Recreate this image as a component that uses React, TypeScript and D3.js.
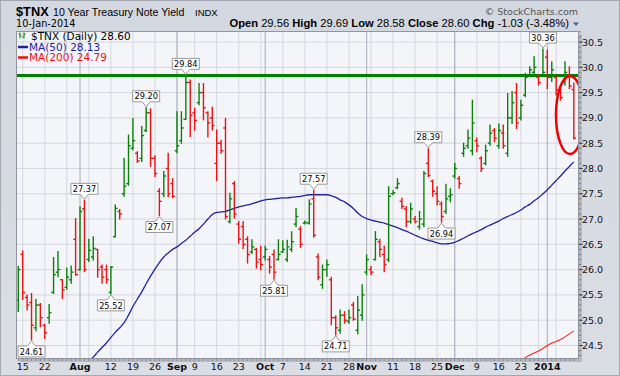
import React from 'react';
import * as d3 from 'd3';

const START = '2013-07-12';
const END = '2014-01-10';
const HOLIDAYS = ['2013-09-02', '2013-11-28', '2013-12-25', '2014-01-01'];
const PRIOR_CLOSE = 25.3;

const opens = [25.40,26.30,25.45,25.35,24.85,25.30,24.90,25.05,25.55,25.95,
25.80,25.65,25.80,26.60,26.00,27.20,26.20,26.25,26.40,26.05,
26.00,25.55,26.65,27.15,27.50,27.70,28.40,28.30,28.20,28.75,
29.10,28.20,27.55,27.50,28.00,27.70,28.35,28.55,28.97,29.70,
29.10,29.30,29.50,29.10,29.00,28.10,28.50,28.80,26.95,27.70,
26.90,26.85,26.60,26.35,26.40,26.20,26.25,26.20,26.30,26.20,
26.35,26.20,26.40,26.90,26.80,26.92,26.92,27.40,26.25,25.70,
26.00,25.80,25.05,24.80,25.10,24.98,25.30,24.80,25.10,25.95,
26.00,26.20,26.55,26.30,26.20,27.50,27.62,27.35,27.20,26.95,
27.00,26.85,26.90,28.10,27.75,27.50,27.30,27.15,27.45,27.85,
27.80,28.30,28.45,28.35,28.55,28.20,28.10,28.50,28.75,28.45,
28.70,28.30,29.00,29.50,29.00,29.45,29.85,29.90,29.80,29.85,
30.20,29.80,29.80,29.55,29.70,29.85,29.56];

const highs = [26.06,26.37,25.50,25.53,25.41,25.33,24.92,25.31,26.24,26.36,
25.80,26.03,26.07,27.01,27.24,27.37,26.60,26.65,26.40,26.09,
26.09,26.06,27.28,27.19,28.20,28.66,28.99,28.33,28.83,29.20,
29.18,28.25,27.60,27.94,28.30,27.80,29.12,29.12,29.84,29.75,
29.19,29.68,29.68,29.12,29.21,28.76,28.56,28.99,27.51,27.74,
26.95,26.95,26.65,26.59,26.42,26.46,26.46,26.26,26.39,26.59,
26.57,26.58,26.75,27.21,26.85,26.96,27.38,27.57,26.31,26.09,
26.19,25.85,25.09,25.20,25.17,25.20,25.35,25.47,25.70,26.29,
26.06,26.75,26.60,26.46,27.64,27.56,27.80,27.41,27.25,27.31,
27.05,27.15,27.94,28.39,27.77,27.64,27.34,27.69,27.60,28.10,
27.84,28.50,28.76,29.35,28.60,28.23,28.46,28.86,28.79,28.88,
28.86,29.48,29.52,29.68,29.35,29.88,30.01,30.21,29.85,30.36,
30.34,30.11,29.82,29.65,30.11,30.01,29.69];

const lows = [25.17,25.41,25.20,24.61,24.79,24.87,24.64,24.94,25.53,25.86,
25.43,25.61,25.73,25.89,25.99,25.96,26.16,26.19,25.85,25.73,
25.73,25.52,26.65,27.00,27.45,27.67,28.37,28.12,28.14,28.73,
28.04,27.84,27.07,27.44,27.44,27.42,28.31,28.50,28.97,28.63,
28.76,29.26,28.96,28.62,28.76,27.76,28.30,27.00,26.92,27.02,
26.52,26.42,26.13,26.32,26.03,26.00,26.19,25.93,25.81,26.19,
26.34,26.16,26.36,26.85,26.44,26.90,26.90,26.64,25.80,25.63,
25.87,24.91,24.71,24.74,24.94,24.94,25.00,24.73,25.00,25.90,
25.90,26.19,26.26,25.96,26.16,27.48,27.60,27.21,26.85,26.92,
26.92,26.80,26.85,27.84,27.45,27.28,26.94,27.11,27.34,27.81,
27.61,28.24,28.40,28.27,28.33,27.94,28.07,28.46,28.53,28.40,
28.40,28.24,28.89,28.79,28.96,29.42,29.82,29.85,29.65,29.85,
29.58,29.72,29.45,29.35,29.65,29.58,28.58];

const closes = [26.00,25.55,25.30,24.90,25.30,25.05,24.75,25.15,25.90,26.00,
25.60,25.85,25.95,25.90,27.15,26.00,26.38,26.42,26.00,25.85,
25.80,26.05,27.21,27.10,27.65,28.45,28.55,28.15,28.65,29.10,
28.20,27.90,27.35,27.85,27.50,27.45,28.45,28.80,29.70,29.05,
28.95,29.50,29.20,28.90,28.85,28.50,28.35,27.05,27.40,27.10,
26.60,26.50,26.30,26.45,26.15,26.10,26.40,26.05,25.95,26.30,
26.40,26.45,26.55,27.05,26.50,26.93,27.30,26.68,25.85,26.00,
26.10,25.05,24.85,25.10,25.00,25.05,25.02,25.20,25.50,26.20,
25.95,26.60,26.40,26.10,27.45,27.52,27.70,27.25,26.95,27.20,
26.95,27.00,27.90,27.86,27.55,27.35,27.05,27.40,27.48,28.00,
27.70,28.40,28.60,28.90,28.45,28.00,28.35,28.70,28.60,28.75,
28.45,29.00,29.30,28.90,29.25,29.80,29.95,30.00,29.70,29.90,
29.80,29.95,29.55,29.40,29.90,29.63,28.60];

const MA50_START = 16;
const ma50 = [24.20,24.27,24.37,24.46,24.55,24.66,24.76,24.85,24.95,25.10,
25.27,25.42,25.56,25.72,25.87,26.01,26.14,26.25,26.33,26.40,
26.45,26.52,26.58,26.66,26.74,26.81,26.90,27.00,27.09,27.13,
27.14,27.15,27.18,27.21,27.24,27.26,27.28,27.30,27.33,27.36,
27.38,27.39,27.40,27.41,27.42,27.42,27.43,27.44,27.45,27.47,
27.48,27.48,27.48,27.48,27.48,27.46,27.43,27.38,27.34,27.28,
27.21,27.12,27.05,27.01,26.98,26.96,26.94,26.92,26.89,26.86,
26.83,26.79,26.76,26.72,26.68,26.64,26.61,26.58,26.56,26.53,
26.51,26.51,26.52,26.54,26.58,26.62,26.67,26.71,26.75,26.79,
26.84,26.88,26.92,26.96,27.01,27.05,27.09,27.13,27.18,27.24,
27.29,27.36,27.42,27.50,27.58,27.67,27.76,27.85,27.95,28.04,
28.13];

const MA200_START = 113;
const ma200 = [24.16,24.21,24.26,24.31,24.35,24.39,24.44,24.50,24.55,24.58,24.62,24.67,24.73,24.79];

const RESISTANCE = 29.84;
const yTicks = [24.5, 25.0, 25.5, 26.0, 26.5, 27.0, 27.5, 28.0, 28.5, 29.0, 29.5, 30.0, 30.5];

const xTickLabels = [
  { date: '2013-07-15', label: '15', bold: false },
  { date: '2013-07-22', label: '22', bold: false },
  { date: '2013-08-01', label: 'Aug', bold: true },
  { date: '2013-08-12', label: '12', bold: false },
  { date: '2013-08-19', label: '19', bold: false },
  { date: '2013-08-26', label: '26', bold: false },
  { date: '2013-09-03', label: 'Sep', bold: true },
  { date: '2013-09-09', label: '9', bold: false },
  { date: '2013-09-16', label: '16', bold: false },
  { date: '2013-09-23', label: '23', bold: false },
  { date: '2013-10-01', label: 'Oct', bold: true },
  { date: '2013-10-07', label: '7', bold: false },
  { date: '2013-10-14', label: '14', bold: false },
  { date: '2013-10-21', label: '21', bold: false },
  { date: '2013-10-28', label: '28', bold: false },
  { date: '2013-11-01', label: 'Nov', bold: true },
  { date: '2013-11-11', label: '11', bold: false },
  { date: '2013-11-18', label: '18', bold: false },
  { date: '2013-11-25', label: '25', bold: false },
  { date: '2013-12-02', label: 'Dec', bold: true },
  { date: '2013-12-09', label: '9', bold: false },
  { date: '2013-12-16', label: '16', bold: false },
  { date: '2013-12-23', label: '23', bold: false },
  { date: '2014-01-02', label: '2014', bold: true },
];

const callouts = [
  { i: 3, side: 'low' }, { i: 15, side: 'high' }, { i: 21, side: 'low' },
  { i: 29, side: 'high' }, { i: 32, side: 'low' }, { i: 38, side: 'high' },
  { i: 58, side: 'low' }, { i: 67, side: 'high' }, { i: 72, side: 'low' },
  { i: 93, side: 'high' }, { i: 96, side: 'low' }, { i: 119, side: 'high' },
];

const W = 620, H = 376;
const P = { left: 16, right: 579, top: 31, bottom: 359 };
const GREEN = '#0a800a';
const RED = '#ee1111';
const FONT = '"DejaVu Sans", Verdana, sans-serif';
const AFONT = '"Liberation Sans", Arial, sans-serif';

const fmtDate = d3.utcFormat('%Y-%m-%d');
const parse = d3.utcParse('%Y-%m-%d');
const dates = d3.utcDay
  .range(parse(START) as Date, d3.utcDay.offset(parse(END) as Date, 1))
  .filter((d) => d.getUTCDay() !== 0 && d.getUTCDay() !== 6 && !HOLIDAYS.includes(fmtDate(d)));

export default function App() {
  const n = closes.length;
  const x = d3.scaleLinear().domain([0, n - 1]).range([18.3, 573.8]);
  const y = d3.scaleLinear().domain([24.5, 30.5]).range([345.5, 42]);
  const idxOf = (s: string) => dates.findIndex((d) => fmtDate(d) === s);

  const weekLines: number[] = [];
  const monthLines: number[] = [];
  dates.forEach((d, i) => {
    if (i === 0) return;
    const p = dates[i - 1];
    if (d.getUTCMonth() !== p.getUTCMonth()) monthLines.push(i);
    if (d.getUTCDay() < p.getUTCDay()) weekLines.push(i);
  });

  const ma50Path = d3.line<[number, number]>().x((p) => x(p[0])).y((p) => y(p[1])).curve(d3.curveMonotoneX)(
    ma50.map((v, k) => [k + MA50_START, v] as [number, number])
  );
  const ma200Path = d3.line<[number, number]>().x((p) => x(p[0])).y((p) => y(p[1]))(
    ma200.map((v, k) => [k + MA200_START, v] as [number, number])
  );

  const minorTicks = d3.range(24.3, 30.75, 0.1);
  const last = n - 1;
  const chg = closes[last] - closes[last - 1];
  const pct = (chg / closes[last - 1]) * 100;

  return (
    <svg width={W} height={H} style={{ position: 'absolute', left: 0, top: 0 }} xmlns="http://www.w3.org/2000/svg">
      <defs>
        <clipPath id="plotClip">
          <rect x={P.left} y={P.top} width={P.right - P.left} height={P.bottom - P.top} />
        </clipPath>
        <linearGradient id="bg" x1="0" y1="0" x2="0" y2="1">
          <stop offset="0" stopColor="#d3d7df" />
          <stop offset="1" stopColor="#dadde4" />
        </linearGradient>
      </defs>
      <rect x={0} y={0} width={W} height={H} fill="url(#bg)" />
      <rect x={0.5} y={0.5} width={W - 1} height={H - 1} fill="none" stroke="#a3a8b2" />
      <rect x={P.left + 3} y={P.top + 3} width={P.right - P.left} height={P.bottom - P.top} fill="#b5b9c2" />
      <rect x={P.left} y={P.top} width={P.right - P.left} height={P.bottom - P.top} fill="#f4f5f9" />

      <g clipPath="url(#plotClip)">
        {yTicks.map((t) => (
          <line key={'hy' + t} x1={P.left} x2={P.right} y1={y(t)} y2={y(t)} stroke="#d4d7df" strokeWidth={1} />
        ))}
        {weekLines.map((i) => (
          <line key={'w' + i} x1={x(i)} x2={x(i)} y1={P.top} y2={P.bottom} stroke="#d4d7df" strokeWidth={1} />
        ))}
        {monthLines.map((i) => (
          <line key={'m' + i} x1={x(i)} x2={x(i)} y1={P.top} y2={P.bottom} stroke="#b4b8c2" strokeWidth={1.2} />
        ))}

        <line x1={P.left} x2={P.right} y1={y(RESISTANCE)} y2={y(RESISTANCE)} stroke="#008000" strokeWidth={3} />

        {ma200Path && <path d={ma200Path} fill="none" stroke="#ff2222" strokeWidth={1.1} />}
        {ma50Path && <path d={ma50Path} fill="none" stroke="#22229a" strokeWidth={1.3} />}

        {closes.map((c, i) => {
          const prev = i === 0 ? PRIOR_CLOSE : closes[i - 1];
          const col = c > prev ? GREEN : RED;
          const cx = x(i);
          return (
            <g key={'b' + i} stroke={col} strokeWidth={1.4}>
              <line x1={cx} x2={cx} y1={y(highs[i]) - 0.5} y2={y(lows[i]) + 0.5} />
              <line x1={cx - 2.3} x2={cx} y1={y(opens[i])} y2={y(opens[i])} />
              <line x1={cx} x2={cx + 2.3} y1={y(c)} y2={y(c)} />
            </g>
          );
        })}

        {callouts.map(({ i, side }) => {
          const cx = x(i);
          const val = side === 'high' ? highs[i] : lows[i];
          const w = 27, h = 11;
          let d: string, ty: number;
          if (side === 'high') {
            const apex = y(val) - 1;
            const bot = apex - 5;
            const top = bot - h;
            d = `M${cx - w / 2},${top}H${cx + w / 2}V${bot}H${cx + 4}L${cx},${apex}L${cx - 4},${bot}H${cx - w / 2}Z`;
            ty = top + 8.6;
          } else {
            const apex = y(val) + 1;
            const top = apex + 5;
            const bot = top + h;
            d = `M${cx - w / 2},${top}H${cx - 4}L${cx},${apex}L${cx + 4},${top}H${cx + w / 2}V${bot}H${cx - w / 2}Z`;
            ty = top + 8.6;
          }
          return (
            <g key={'c' + i}>
              <path d={d} fill="#ffffff" stroke="#9a9a9a" strokeWidth={1} />
              <text x={cx} y={ty} textAnchor="middle" fontFamily={FONT} fontSize={8.2} fill="#000">
                {val.toFixed(2)}
              </text>
            </g>
          );
        })}

        <ellipse cx={570} cy={115} rx={14} ry={39} fill="none" stroke="#ee0000" strokeWidth={2.5} />
      </g>

      <rect x={P.left + 0.5} y={P.top + 0.5} width={P.right - P.left - 1} height={P.bottom - P.top - 1} fill="none" stroke="#9095a0" strokeWidth={1} />

      {minorTicks.map((t, k) => (
        <line key={'mt' + k} x1={P.right} x2={P.right + 2} y1={y(t)} y2={y(t)} stroke="#666" strokeWidth={0.8} />
      ))}
      {yTicks.map((t) => (
        <g key={'yt' + t}>
          <line x1={P.right} x2={P.right + 4} y1={y(t)} y2={y(t)} stroke="#444" strokeWidth={1} />
          <text x={P.right + 3} y={y(t) + 3.5} fontFamily={FONT} fontSize={9.5} fill="#111">
            {t.toFixed(1)}
          </text>
        </g>
      ))}

      {closes.map((_, i) => (
        <line key={'bt' + i} x1={x(i)} x2={x(i)} y1={P.bottom} y2={P.bottom + 2} stroke="#777" strokeWidth={0.8} />
      ))}
      {xTickLabels.map((t) => {
        const i = idxOf(t.date);
        return (
          <text key={'xl' + t.date} x={x(i)} y={370} textAnchor="middle" fontFamily={FONT}
            fontSize={9.5} fontWeight={t.bold ? 'bold' : 'normal'} fill="#111">
            {t.label}
          </text>
        );
      })}

      <text x={16} y={16} fontFamily={AFONT} fontSize={12.8} fontWeight="bold" fill="#000">$TNX</text>
      <text x={53} y={16} fontFamily={AFONT} fontSize={10.6} fill="#000">10 Year Treasury Note Yield</text>
      <text x={195} y={16} fontFamily={AFONT} fontSize={9.5} fill="#000">INDX</text>
      <text x={16} y={26.5} fontFamily={FONT} fontSize={9.7} fill="#000">10-Jan-2014</text>
      <text x={578} y={15} textAnchor="end" fontFamily={FONT} fontSize={9.5} fill="#555">© StockCharts.com</text>
      <text x={569} y={26.5} textAnchor="end" fontFamily={AFONT} fontSize={11.2} fill="#000">
        <tspan fontWeight="bold">Open</tspan> {opens[last].toFixed(2)}{'  '}
        <tspan fontWeight="bold">High</tspan> {highs[last].toFixed(2)}{'  '}
        <tspan fontWeight="bold">Low</tspan> {lows[last].toFixed(2)}{'  '}
        <tspan fontWeight="bold">Close</tspan> {closes[last].toFixed(2)}{'  '}
        <tspan fontWeight="bold">Chg</tspan> {chg.toFixed(2)} ({pct.toFixed(2)}%)
      </text>
      <path d="M573,22.5 L579,22.5 L576,26 Z" fill="#3e5f95" />

      <g stroke={GREEN} strokeWidth={1}>
        <line x1={20} x2={20} y1={32.5} y2={38.5} />
        <line x1={18.5} x2={20} y1={34} y2={34} />
        <line x1={20} x2={21.5} y1={36} y2={36} />
        <line x1={24} x2={24} y1={32.5} y2={38.5} />
        <line x1={22.5} x2={24} y1={37} y2={37} />
        <line x1={24} x2={25.5} y1={34} y2={34} />
      </g>
      <text x={31} y={39.5} fontFamily={FONT} fontSize={10.5} fill="#000">$TNX (Daily) {closes[last].toFixed(2)}</text>
      <line x1={18} x2={28} y1={47} y2={47} stroke="#22229a" strokeWidth={2.5} />
      <text x={29} y={50.5} fontFamily={FONT} fontSize={10.5} fill="#22229a">MA(50) {ma50[ma50.length - 1].toFixed(2)}</text>
      <line x1={18} x2={28} y1={57.5} y2={57.5} stroke="#ee1111" strokeWidth={2.5} />
      <text x={29} y={61} fontFamily={FONT} fontSize={10.5} fill="#ee1111">MA(200) {ma200[ma200.length - 1].toFixed(2)}</text>
    </svg>
  );
}
